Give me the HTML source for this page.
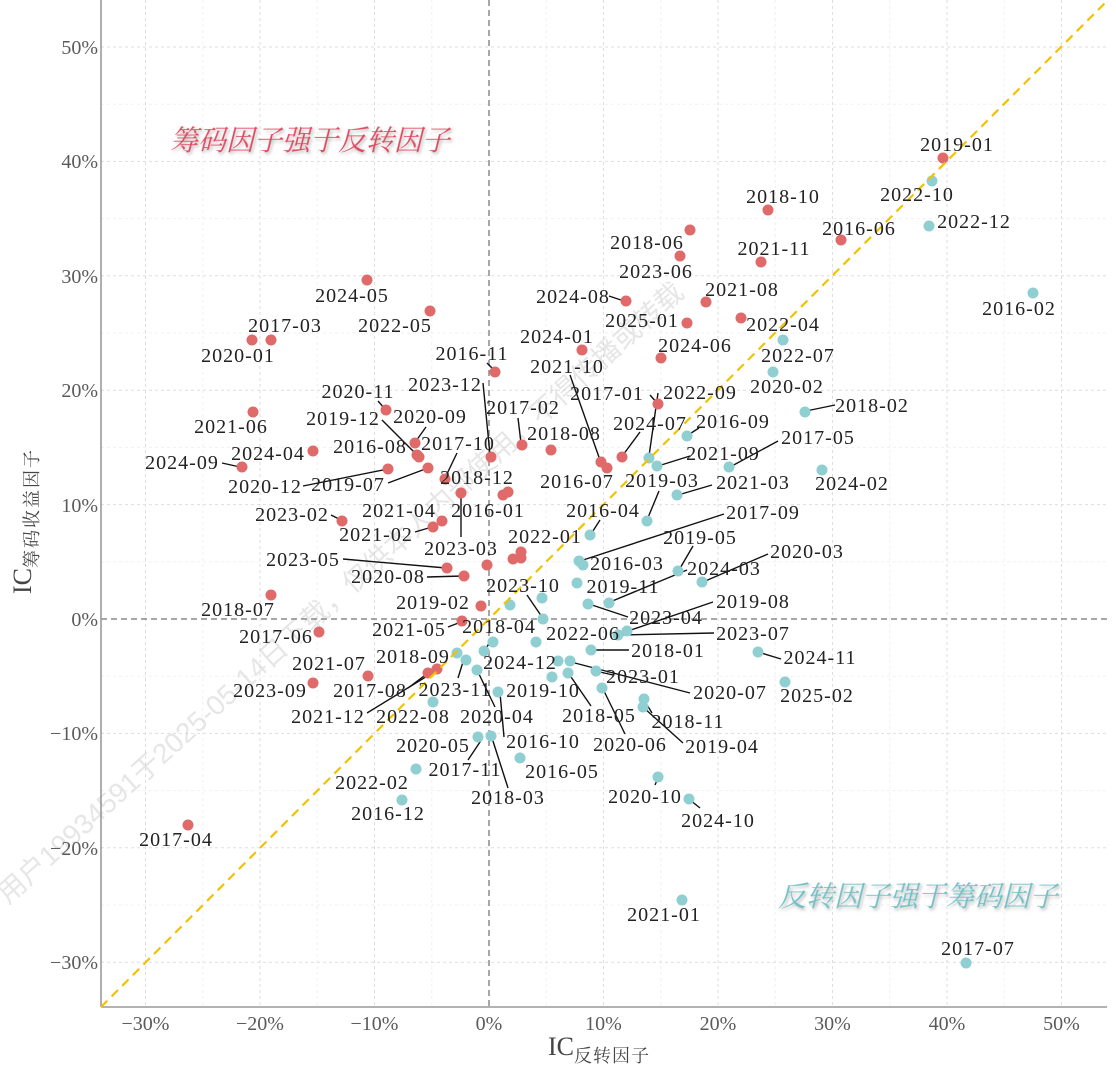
<!DOCTYPE html>
<html><head><meta charset="utf-8">
<style>
html,body{margin:0;padding:0;background:#fff;}
svg{display:block;}
.lb{font-family:"Liberation Serif","Noto Serif CJK SC",serif;font-size:20px;fill:#222;text-anchor:middle;letter-spacing:1px;}
.tk{font-family:"Liberation Serif",serif;font-size:20px;fill:#5a5a5a;}
.r{fill:#e06a6a;}
.b{fill:#8fcfd1;}
.ld{stroke:#111;stroke-width:1.4;}
</style></head>
<body>
<svg width="1116" height="1065" viewBox="0 0 1116 1065" xmlns="http://www.w3.org/2000/svg">
<defs>
<filter id="sh" x="-10%" y="-30%" width="120%" height="160%">
<feDropShadow dx="2" dy="2" stdDeviation="1.5" flood-color="#888" flood-opacity="0.6"/>
</filter>
</defs>
<rect width="1116" height="1065" fill="#fff"/>
<!-- minor grid -->
<g stroke="#f0f0f0" stroke-width="1" stroke-dasharray="3,3">
<line x1="202.75" y1="0" x2="202.75" y2="1007"/><line x1="317.25" y1="0" x2="317.25" y2="1007"/>
<line x1="431.75" y1="0" x2="431.75" y2="1007"/><line x1="546.25" y1="0" x2="546.25" y2="1007"/>
<line x1="660.75" y1="0" x2="660.75" y2="1007"/><line x1="775.25" y1="0" x2="775.25" y2="1007"/>
<line x1="889.75" y1="0" x2="889.75" y2="1007"/><line x1="1004.25" y1="0" x2="1004.25" y2="1007"/>
<line x1="101" y1="104.2" x2="1107" y2="104.2"/><line x1="101" y1="218.6" x2="1107" y2="218.6"/>
<line x1="101" y1="333" x2="1107" y2="333"/><line x1="101" y1="447.4" x2="1107" y2="447.4"/>
<line x1="101" y1="561.8" x2="1107" y2="561.8"/><line x1="101" y1="676.2" x2="1107" y2="676.2"/>
<line x1="101" y1="790.6" x2="1107" y2="790.6"/><line x1="101" y1="905" x2="1107" y2="905"/>
</g>
<!-- major grid -->
<g stroke="#dedede" stroke-width="1" stroke-dasharray="3,3">
<line x1="145.5" y1="0" x2="145.5" y2="1007"/><line x1="260" y1="0" x2="260" y2="1007"/>
<line x1="374.5" y1="0" x2="374.5" y2="1007"/><line x1="603.5" y1="0" x2="603.5" y2="1007"/>
<line x1="718" y1="0" x2="718" y2="1007"/><line x1="832.5" y1="0" x2="832.5" y2="1007"/>
<line x1="947" y1="0" x2="947" y2="1007"/><line x1="1061.5" y1="0" x2="1061.5" y2="1007"/>
<line x1="101" y1="47" x2="1107" y2="47"/><line x1="101" y1="161.4" x2="1107" y2="161.4"/>
<line x1="101" y1="275.8" x2="1107" y2="275.8"/><line x1="101" y1="390.2" x2="1107" y2="390.2"/>
<line x1="101" y1="504.6" x2="1107" y2="504.6"/><line x1="101" y1="733.4" x2="1107" y2="733.4"/>
<line x1="101" y1="847.8" x2="1107" y2="847.8"/><line x1="101" y1="962.2" x2="1107" y2="962.2"/>
</g>
<!-- watermark -->
<text transform="translate(8,905) rotate(-42)" font-family="Liberation Sans,Noto Sans CJK SC,sans-serif" font-size="28" fill="#c8c8c8" fill-opacity="0.45">用户19934591于2025-05-14日下载，仅供本人内部使用，不得传播或转载</text>
<!-- zero lines -->
<g stroke="#8a8a8a" stroke-width="1.5" stroke-dasharray="6,4">
<line x1="489" y1="0" x2="489" y2="1007"/>
<line x1="101" y1="619" x2="1107" y2="619"/>
</g>
<!-- axes -->
<line x1="101" y1="0" x2="101" y2="1007" stroke="#999" stroke-width="1.6"/>
<line x1="101" y1="1007" x2="1107" y2="1007" stroke="#999" stroke-width="1.6"/>
<!-- y tick labels -->
<g class="tk" text-anchor="end">
<text x="98" y="54">50%</text><text x="98" y="168">40%</text><text x="98" y="283">30%</text>
<text x="98" y="397">20%</text><text x="98" y="512">10%</text><text x="98" y="626">0%</text>
<text x="98" y="740">−10%</text><text x="98" y="855">−20%</text><text x="98" y="969">−30%</text>
</g>
<!-- x tick labels -->
<g class="tk" text-anchor="middle">
<text x="145.5" y="1030">−30%</text><text x="260" y="1030">−20%</text><text x="374.5" y="1030">−10%</text>
<text x="489" y="1030">0%</text><text x="603.5" y="1030">10%</text><text x="718" y="1030">20%</text>
<text x="832.5" y="1030">30%</text><text x="947" y="1030">40%</text><text x="1061.5" y="1030">50%</text>
</g>
<!-- axis titles -->
<text x="548" y="1055" font-family="Liberation Serif,Noto Serif CJK SC,serif" font-size="26" fill="#444">IC<tspan font-size="18" dy="7" letter-spacing="1" font-family="Noto Serif CJK SC,serif">反转因子</tspan></text>
<text transform="translate(31,594) rotate(-90)" font-family="Liberation Serif,Noto Serif CJK SC,serif" font-size="26" fill="#444">IC<tspan font-size="18" dy="7" letter-spacing="2" font-family="Noto Serif CJK SC,serif">筹码收益因子</tspan></text>
<!-- annotations -->
<text transform="translate(170,150) skewX(-14)" font-family="Noto Serif CJK SC,serif" font-size="28" fill="#e04a62" filter="url(#sh)">筹码因子强于反转因子</text>
<text transform="translate(778,906) skewX(-14)" font-family="Noto Serif CJK SC,serif" font-size="28" fill="#72c0c5" filter="url(#sh)">反转因子强于筹码因子</text>
<!-- leader lines -->
<g class="ld">
<line x1="609" y1="296" x2="624" y2="301"/><line x1="835" y1="405" x2="806" y2="411"/>
<line x1="487" y1="363" x2="494" y2="370"/><line x1="570" y1="375" x2="600" y2="460"/>
<line x1="483" y1="383" x2="490" y2="455"/><line x1="378" y1="401" x2="385" y2="409"/>
<line x1="650" y1="395" x2="657" y2="403"/><line x1="658" y1="393" x2="649" y2="456"/>
<line x1="426" y1="427" x2="416" y2="441"/><line x1="382" y1="420" x2="418" y2="456"/>
<line x1="518" y1="418" x2="521" y2="443"/><line x1="699" y1="428" x2="688" y2="435"/>
<line x1="640" y1="432" x2="623" y2="455"/><line x1="457" y1="453" x2="445" y2="478"/>
<line x1="690" y1="456" x2="658" y2="466"/><line x1="778" y1="441" x2="730" y2="467"/>
<line x1="222" y1="463" x2="240" y2="467"/><line x1="303" y1="486" x2="388" y2="469"/>
<line x1="388" y1="483" x2="428" y2="468"/><line x1="659" y1="491" x2="647" y2="520"/>
<line x1="712" y1="485" x2="678" y2="495"/><line x1="600" y1="520" x2="591" y2="534"/>
<line x1="724" y1="514" x2="580" y2="561"/><line x1="331" y1="515" x2="341" y2="520"/>
<line x1="415" y1="532" x2="432" y2="527"/><line x1="693" y1="546" x2="679" y2="570"/>
<line x1="461" y1="537" x2="461" y2="494"/><line x1="768" y1="554" x2="703" y2="582"/>
<line x1="343" y1="559" x2="446" y2="568"/><line x1="687" y1="570" x2="610" y2="602"/>
<line x1="427" y1="577" x2="463" y2="576"/><line x1="527" y1="595" x2="542" y2="617"/>
<line x1="713" y1="602" x2="628" y2="631"/><line x1="628" y1="617" x2="589" y2="604"/>
<line x1="493" y1="637" x2="485" y2="650"/><line x1="448" y1="627" x2="461" y2="622"/>
<line x1="714" y1="633" x2="619" y2="635"/><line x1="629" y1="650" x2="592" y2="650"/>
<line x1="758" y1="652" x2="781" y2="659"/><line x1="600" y1="672" x2="613" y2="675"/>
<line x1="408" y1="688" x2="428" y2="673"/><line x1="463" y1="662" x2="458" y2="678"/>
<line x1="690" y1="693" x2="571" y2="662"/><line x1="367" y1="713" x2="437" y2="670"/>
<line x1="478" y1="672" x2="495" y2="707"/><line x1="591" y1="706" x2="569" y2="674"/>
<line x1="644" y1="700" x2="652" y2="713"/><line x1="500" y1="693" x2="504" y2="737"/>
<line x1="625" y1="734" x2="603" y2="689"/><line x1="683" y1="743" x2="644" y2="708"/>
<line x1="482" y1="739" x2="468" y2="760"/><line x1="655" y1="785" x2="658" y2="778"/>
<line x1="492" y1="738" x2="508" y2="788"/><line x1="700" y1="808" x2="690" y2="800"/>
</g>
<!-- red points -->
<g class="r">
<circle cx="943" cy="158" r="5.5"/><circle cx="768" cy="210" r="5.5"/><circle cx="761" cy="262" r="5.5"/>
<circle cx="841" cy="240" r="5.5"/><circle cx="690" cy="230" r="5.5"/><circle cx="680" cy="256" r="5.5"/>
<circle cx="626" cy="301" r="5.5"/><circle cx="706" cy="302" r="5.5"/><circle cx="687" cy="323" r="5.5"/>
<circle cx="741" cy="318" r="5.5"/><circle cx="661" cy="358" r="5.5"/><circle cx="582" cy="350" r="5.5"/>
<circle cx="367" cy="280" r="5.5"/><circle cx="430" cy="311" r="5.5"/><circle cx="252" cy="340" r="5.5"/>
<circle cx="271" cy="340" r="5.5"/><circle cx="495" cy="372" r="5.5"/><circle cx="386" cy="410" r="5.5"/>
<circle cx="253" cy="412" r="5.5"/><circle cx="415" cy="443" r="5.5"/><circle cx="417" cy="455" r="5.5"/>
<circle cx="419" cy="457" r="5.5"/><circle cx="491" cy="457" r="5.5"/><circle cx="445" cy="479" r="5.5"/>
<circle cx="313" cy="451" r="5.5"/><circle cx="242" cy="467" r="5.5"/><circle cx="388" cy="469" r="5.5"/>
<circle cx="428" cy="468" r="5.5"/><circle cx="461" cy="493" r="5.5"/><circle cx="503" cy="495" r="5.5"/>
<circle cx="508" cy="492" r="5.5"/><circle cx="342" cy="521" r="5.5"/><circle cx="433" cy="527" r="5.5"/>
<circle cx="442" cy="521" r="5.5"/><circle cx="447" cy="568" r="5.5"/><circle cx="464" cy="576" r="5.5"/>
<circle cx="487" cy="565" r="5.5"/><circle cx="513" cy="559" r="5.5"/><circle cx="521" cy="558" r="5.5"/>
<circle cx="521" cy="552" r="5.5"/><circle cx="481" cy="606" r="5.5"/><circle cx="462" cy="621" r="5.5"/>
<circle cx="271" cy="595" r="5.5"/><circle cx="319" cy="632" r="5.5"/><circle cx="368" cy="676" r="5.5"/>
<circle cx="313" cy="683" r="5.5"/><circle cx="428" cy="673" r="5.5"/><circle cx="437" cy="669" r="5.5"/>
<circle cx="188" cy="825" r="5.5"/><circle cx="522" cy="445" r="5.5"/><circle cx="551" cy="450" r="5.5"/>
<circle cx="658" cy="404" r="5.5"/><circle cx="622" cy="457" r="5.5"/><circle cx="601" cy="462" r="5.5"/>
<circle cx="607" cy="468" r="5.5"/>
</g>
<!-- blue points -->
<g class="b">
<circle cx="783" cy="340" r="5.5"/><circle cx="773" cy="372" r="5.5"/><circle cx="805" cy="412" r="5.5"/>
<circle cx="932" cy="181" r="5.5"/><circle cx="929" cy="226" r="5.5"/><circle cx="1033" cy="293" r="5.5"/>
<circle cx="687" cy="436" r="5.5"/><circle cx="649" cy="458" r="5.5"/><circle cx="657" cy="466" r="5.5"/>
<circle cx="729" cy="467" r="5.5"/><circle cx="822" cy="470" r="5.5"/><circle cx="677" cy="495" r="5.5"/>
<circle cx="647" cy="521" r="5.5"/><circle cx="590" cy="535" r="5.5"/><circle cx="579" cy="561" r="5.5"/>
<circle cx="583" cy="565" r="5.5"/><circle cx="678" cy="571" r="5.5"/><circle cx="702" cy="582" r="5.5"/>
<circle cx="577" cy="583" r="5.5"/><circle cx="542" cy="598" r="5.5"/><circle cx="510" cy="605" r="5.5"/>
<circle cx="588" cy="604" r="5.5"/><circle cx="609" cy="603" r="5.5"/><circle cx="543" cy="619" r="5.5"/>
<circle cx="627" cy="631" r="5.5"/><circle cx="618" cy="635" r="5.5"/><circle cx="591" cy="650" r="5.5"/>
<circle cx="493" cy="642" r="5.5"/><circle cx="484" cy="651" r="5.5"/><circle cx="536" cy="642" r="5.5"/>
<circle cx="558" cy="661" r="5.5"/><circle cx="570" cy="661" r="5.5"/><circle cx="552" cy="677" r="5.5"/>
<circle cx="568" cy="673" r="5.5"/><circle cx="596" cy="671" r="5.5"/><circle cx="602" cy="688" r="5.5"/>
<circle cx="644" cy="699" r="5.5"/><circle cx="643" cy="707" r="5.5"/><circle cx="457" cy="653" r="5.5"/>
<circle cx="466" cy="660" r="5.5"/><circle cx="477" cy="670" r="5.5"/><circle cx="498" cy="692" r="5.5"/>
<circle cx="433" cy="702" r="5.5"/><circle cx="478" cy="737" r="5.5"/><circle cx="491" cy="736" r="5.5"/>
<circle cx="416" cy="769" r="5.5"/><circle cx="402" cy="800" r="5.5"/><circle cx="520" cy="758" r="5.5"/>
<circle cx="658" cy="777" r="5.5"/><circle cx="689" cy="799" r="5.5"/><circle cx="758" cy="652" r="5.5"/>
<circle cx="785" cy="682" r="5.5"/><circle cx="682" cy="900" r="5.5"/><circle cx="966" cy="963" r="5.5"/>
</g>
<!-- diagonal -->
<line x1="101" y1="1007" x2="1108" y2="0" stroke="#f2c200" stroke-width="2.2" stroke-dasharray="9,6"/>
<!-- labels -->
<g class="lb">
<text x="957" y="151">2019-01</text><text x="783" y="203">2018-10</text><text x="774" y="255">2021-11</text>
<text x="859" y="235">2016-06</text><text x="917" y="201">2022-10</text><text x="974" y="228">2022-12</text>
<text x="1019" y="315">2016-02</text><text x="647" y="249">2018-06</text><text x="656" y="278">2023-06</text>
<text x="573" y="303">2024-08</text><text x="742" y="296">2021-08</text><text x="642" y="327">2025-01</text>
<text x="783" y="331">2022-04</text><text x="798" y="362">2022-07</text><text x="787" y="393">2020-02</text>
<text x="872" y="412">2018-02</text><text x="695" y="352">2024-06</text><text x="557" y="343">2024-01</text>
<text x="352" y="302">2024-05</text><text x="395" y="332">2022-05</text><text x="285" y="332">2017-03</text>
<text x="238" y="362">2020-01</text><text x="472" y="360">2016-11</text><text x="567" y="373">2021-10</text>
<text x="445" y="391">2023-12</text><text x="358" y="398">2020-11</text><text x="607" y="400">2017-01</text>
<text x="700" y="399">2022-09</text><text x="231" y="433">2021-06</text><text x="430" y="423">2020-09</text>
<text x="343" y="425">2019-12</text><text x="523" y="414">2017-02</text><text x="733" y="428">2016-09</text>
<text x="650" y="430">2024-07</text><text x="564" y="440">2018-08</text><text x="370" y="453">2016-08</text>
<text x="458" y="450">2017-10</text><text x="723" y="460">2021-09</text><text x="818" y="444">2017-05</text>
<text x="268" y="460">2024-04</text><text x="182" y="469">2024-09</text><text x="477" y="484">2018-12</text>
<text x="265" y="493">2020-12</text><text x="348" y="491">2019-07</text><text x="577" y="488">2016-07</text>
<text x="662" y="487">2019-03</text><text x="753" y="489">2021-03</text><text x="852" y="490">2024-02</text>
<text x="488" y="517">2016-01</text><text x="399" y="517">2021-04</text><text x="603" y="517">2016-04</text>
<text x="763" y="519">2017-09</text><text x="292" y="521">2023-02</text><text x="376" y="541">2021-02</text>
<text x="545" y="543">2022-01</text><text x="700" y="544">2019-05</text><text x="461" y="555">2023-03</text>
<text x="807" y="558">2020-03</text><text x="303" y="566">2023-05</text><text x="627" y="570">2016-03</text>
<text x="724" y="575">2024-03</text><text x="388" y="583">2020-08</text><text x="523" y="592">2023-10</text>
<text x="623" y="593">2019-11</text><text x="753" y="608">2019-08</text><text x="433" y="609">2019-02</text>
<text x="238" y="616">2018-07</text><text x="666" y="624">2023-04</text><text x="499" y="633">2018-04</text>
<text x="409" y="636">2021-05</text><text x="583" y="640">2022-06</text><text x="753" y="640">2023-07</text>
<text x="276" y="643">2017-06</text><text x="668" y="657">2018-01</text><text x="413" y="663">2018-09</text>
<text x="520" y="669">2024-12</text><text x="329" y="670">2021-07</text><text x="820" y="664">2024-11</text>
<text x="643" y="683">2023-01</text><text x="370" y="697">2017-08</text><text x="270" y="697">2023-09</text>
<text x="455" y="696">2023-11</text><text x="543" y="697">2019-10</text><text x="730" y="699">2020-07</text>
<text x="817" y="702">2025-02</text><text x="328" y="723">2021-12</text><text x="413" y="723">2022-08</text>
<text x="497" y="723">2020-04</text><text x="599" y="722">2018-05</text><text x="688" y="728">2018-11</text>
<text x="543" y="748">2016-10</text><text x="433" y="752">2020-05</text><text x="630" y="751">2020-06</text>
<text x="722" y="753">2019-04</text><text x="465" y="776">2017-11</text><text x="562" y="778">2016-05</text>
<text x="372" y="789">2022-02</text><text x="645" y="803">2020-10</text><text x="508" y="804">2018-03</text>
<text x="388" y="820">2016-12</text><text x="718" y="827">2024-10</text><text x="176" y="846">2017-04</text>
<text x="664" y="921">2021-01</text><text x="978" y="955">2017-07</text>
</g>
</svg>
</body></html>
